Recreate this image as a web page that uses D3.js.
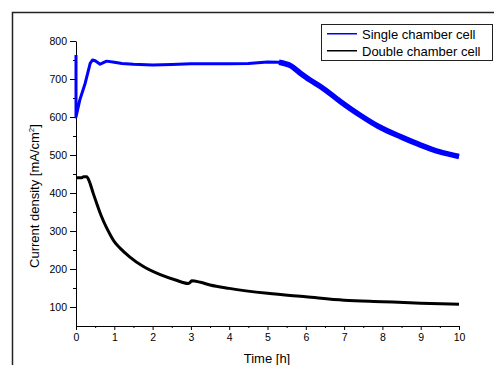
<!DOCTYPE html>
<html>
<head>
<meta charset="utf-8">
<script src="https://cdn.jsdelivr.net/npm/d3@7"></script>
<style>
  body { margin: 0; background: #fff; }
  svg { display: block; font-family: "Liberation Sans", Arial, sans-serif; }
  .axis path, .axis line { stroke: #000; }
  .axis text { font-size: 10.5px; fill: #000; }
</style>
</head>
<body>
<svg id="chart" width="494" height="365"></svg>
<script>
// single chamber cell (blue)
const singleTime = [0, 0, 0.1, 0.24, 0.37, 0.43, 0.5, 0.63, 0.8, 1.0, 1.2, 1.5, 2.0, 2.5, 3.0, 3.5, 4.0, 4.5, 5.0, 5.3, 5.6, 5.85, 6.1, 6.4, 6.9, 7.4, 7.9, 8.5, 9.0, 9.5, 10];
const singleVal  = [763, 600, 645, 689, 741, 750, 748, 739, 747, 744, 741, 739, 737, 738, 740, 740, 740, 741, 745, 744, 735, 716, 698, 679, 641, 606, 575, 547, 526, 508, 496];

// double chamber cell (black)
const doubleTime = [0, 0.15, 0.2, 0.28, 0.35, 0.45, 0.55, 0.65, 0.8, 0.9, 1.0, 1.15, 1.4, 1.75, 2.2, 2.6, 2.93, 2.97, 3.02, 3.25, 3.5, 4, 5, 6, 7, 8, 9, 10];
const doubleVal  = [440, 440, 443, 443, 430, 399, 370, 342, 308, 289, 272, 255, 232, 207, 185, 171, 162, 164, 169, 165, 158, 149, 136, 127, 118, 114, 110, 107];

const xTicks = [0, 1, 2, 3, 4, 5, 6, 7, 8, 9, 10];
const yTicks = [100, 200, 300, 400, 500, 600, 700, 800];
const legendNames = ["Single chamber cell", "Double chamber cell"];
const colors = ["#0000ff", "#000000"];

const svg = d3.select("#chart");

// outer frame
svg.append("rect")
    .attr("x", 12.5).attr("y", 12.5)
    .attr("width", 520).attr("height", 420)
    .attr("fill", "none")
    .attr("stroke", "#222")
    .attr("stroke-width", 1.5);

var x = d3.scaleLinear().domain([0, 10]).range([76, 459]);
var y = d3.scaleLinear().domain([50, 800]).range([326, 41]);

// minor ticks
svg.append("g").attr("class", "axis")
    .attr("transform", "translate(0,326)")
    .call(d3.axisBottom(x).tickValues(d3.range(0.5, 10, 1)).tickSize(2).tickFormat(""))
    .select(".domain").remove();
svg.append("g").attr("class", "axis")
    .attr("transform", "translate(76,0)")
    .call(d3.axisLeft(y).tickValues(d3.range(150, 800, 100)).tickSize(3).tickFormat(""))
    .select(".domain").remove();

svg.append("g").attr("class", "axis")
    .attr("transform", "translate(0,326)")
    .call(d3.axisBottom(x).tickValues(xTicks).tickSize(4).tickSizeOuter(0).tickPadding(4));
svg.append("g").attr("class", "axis")
    .attr("transform", "translate(76,0)")
    .call(d3.axisLeft(y).tickValues(yTicks).tickSize(6).tickSizeOuter(0).tickPadding(3));

// axis titles
svg.append("text")
    .attr("x", 267).attr("y", 363)
    .attr("text-anchor", "middle")
    .style("font-size", "13px")
    .text("Time [h]");

let yl = svg.append("text")
    .attr("transform", "translate(39,196) rotate(-90)")
    .attr("text-anchor", "middle")
    .style("font-size", "13px");
yl.append("tspan").text("Current density [mA/cm");
yl.append("tspan").attr("dy", -5).style("font-size", "8px").text("2");
yl.append("tspan").attr("dy", 5).text("]");

// lines
const single = singleTime.map((t, i) => ({t: t, v: singleVal[i]}));
const dbl = doubleTime.map((t, i) => ({t: t, v: doubleVal[i]}));

let line = d3.line().x(d => x(d.t)).y(d => y(d.v));

svg.append("path")
    .datum(dbl)
    .attr("fill", "none")
    .attr("stroke", colors[1])
    .attr("stroke-width", 3)
    .attr("stroke-linejoin", "round")
    .attr("d", line.curve(d3.curveMonotoneX));

svg.append("path")
    .datum(single)
    .attr("fill", "none")
    .attr("stroke", colors[0])
    .attr("stroke-width", 3)
    .attr("stroke-linejoin", "round")
    .attr("d", line.curve(d3.curveLinear));

// noisy part is drawn thicker
svg.append("path")
    .datum(single.filter(d => d.t >= 5.3))
    .attr("fill", "none")
    .attr("stroke", colors[0])
    .attr("stroke-width", 5.5)
    .attr("stroke-linejoin", "round")
    .attr("d", line.curve(d3.curveMonotoneX));

// legend
let legend = svg.append("g");
legend.append("rect")
    .attr("x", 321.5).attr("y", 24.5)
    .attr("width", 171).attr("height", 36)
    .attr("fill", "#fff")
    .attr("stroke", "#222")
    .attr("stroke-width", 1);

legendNames.forEach((name, i) => {
    legend.append("rect")
        .attr("x", 327).attr("y", 33 + i * 17)
        .attr("width", 30).attr("height", 1.5)
        .style("fill", colors[i]);
    legend.append("text")
        .attr("x", 362).attr("y", 38.5 + i * 17)
        .style("font-size", "13px")
        .text(name);
});
</script>
</body>
</html>
